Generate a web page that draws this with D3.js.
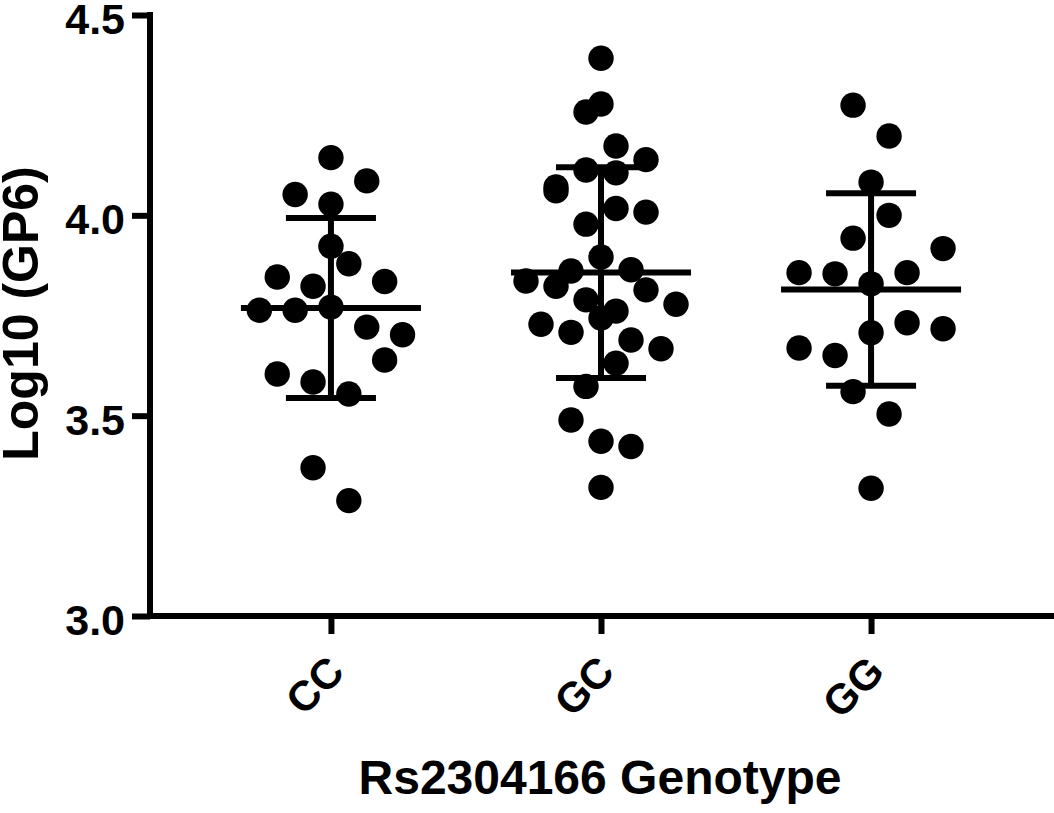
<!DOCTYPE html>
<html>
<head>
<meta charset="utf-8">
<script src="https://cdn.jsdelivr.net/npm/d3@7"></script>
<style>
  body { margin: 0; background: #fff; }
  text { font-family: "Liberation Sans", Arial, Helvetica, sans-serif; font-weight: bold; fill: #000; }
</style>
</head>
<body>
<div id="chart"></div>
<script>
// Chart data
var genotypes = ["CC", "GC", "GG"];
var yTicks = [3.0, 3.5, 4.0, 4.5];

// log10(GP6) per subject
var ccValues = [4.144, 4.086, 4.052, 4.028, 3.923, 3.879, 3.846, 3.835, 3.823, 3.763,
  3.763, 3.771, 3.721, 3.702, 3.639, 3.604, 3.584, 3.554, 3.370, 3.288];
var gcValues = [4.392, 4.278, 4.258, 4.173, 4.139, 4.113, 4.106, 4.071, 4.061, 4.017,
  4.008, 3.978, 3.896, 3.861, 3.864, 3.836, 3.823, 3.814, 3.789, 3.778,
  3.761, 3.744, 3.728, 3.708, 3.689, 3.667, 3.631, 3.573, 3.489, 3.436, 3.423, 3.321];
var ggValues = [4.275, 4.198, 4.083, 4.000, 3.943, 3.917, 3.857, 3.854, 3.857, 3.829,
  3.732, 3.707, 3.717, 3.669, 3.650, 3.560, 3.504, 3.319];

// swarm column of each point (same order as the values)
var ccSlots = [0, 2, -2, 0, 0, 1, -3, 3, -1, -4, -2, 0, 2, 4, 3, -3, -1, 1, -1, 1];
var gcSlots = [0, 0, -1, 1, 3, -1, 1, -3, -3, 1, 3, -1, 0, -2, 2, -5, -3, 3, -1, 5,
  1, 0, -4, -2, 2, 4, 1, -1, -2, 0, 2, 0];
var ggSlots = [-1, 1, 0, 1, -1, 4, -4, -2, 2, 0, 2, 0, 4, -4, -2, -1, 1, 0];

var groupValues = [ccValues, gcValues, ggValues];
var groupSlots = [ccSlots, gcSlots, ggSlots];

// layout
var svgWidth = 1054;
var svgHeight = 813;
var margin = { top: 15, right: 0, bottom: 197, left: 150 };
var width = svgWidth - margin.left - margin.right;
var height = svgHeight - margin.top - margin.bottom;
var slotWidth = [17.9, 15, 18];   // px between swarm columns per group
var dotR = 12.7;
var lineW = 6;

var groups = genotypes.map(function(g, i) {
  var vals = groupValues[i];
  return {
    name: g,
    mean: d3.mean(vals),
    sd: d3.deviation(vals),
    points: vals.map(function(v, j) { return { value: v, slot: groupSlots[i][j], gi: i }; })
  };
});

var svg = d3.select("#chart")
  .append("svg")
  .attr("width", svgWidth)
  .attr("height", svgHeight);

var chartGroup = svg.append("g")
  .attr("transform", `translate(${margin.left}, ${margin.top})`);

// scales
var xScale = d3.scalePoint()
  .domain(genotypes)
  .range([0, 902])
  .padding(0.67);

var yScale = d3.scaleLinear()
  .domain([3.0, 4.5])
  .range([height, 0]);

var step = xScale.step();

// axes
var yAxis = d3.axisLeft(yScale)
  .tickValues(yTicks)
  .tickFormat(d3.format(".1f"))
  .tickSize(18)
  .tickSizeOuter(0)
  .tickPadding(7);

var xAxis = d3.axisBottom(xScale)
  .tickSize(18)
  .tickSizeOuter(0);

var gy = chartGroup.append("g").call(yAxis);
gy.select(".domain").remove();
gy.selectAll(".tick line").attr("stroke", "#000").attr("stroke-width", lineW);
gy.selectAll(".tick text")
  .attr("font-size", "43px")
  .attr("dy", "0.43em");

var gx = chartGroup.append("g")
  .attr("transform", `translate(0, ${height})`)
  .call(xAxis);
gx.select(".domain").remove();
gx.selectAll(".tick line").attr("stroke", "#000").attr("stroke-width", lineW);
gx.selectAll(".tick text")
  .attr("font-size", "42px")
  .attr("x", 0)
  .attr("y", 0)
  .attr("dy", 0)
  .attr("text-anchor", "end")
  .attr("transform", "translate(15, 58) rotate(-45)");

// axis lines
chartGroup.append("path")
  .attr("d", `M0,${yScale(4.5)}V${height}H${width}`)
  .attr("fill", "none")
  .attr("stroke", "#000")
  .attr("stroke-width", lineW)
  .attr("stroke-linecap", "square");

// mean and SD bars
var bars = chartGroup.append("g")
  .selectAll("g")
  .data(groups)
  .enter()
  .append("g")
  .attr("stroke", "#000")
  .attr("stroke-width", lineW);

bars.append("line")
  .attr("x1", d => xScale(d.name))
  .attr("x2", d => xScale(d.name))
  .attr("y1", d => yScale(d.mean + d.sd))
  .attr("y2", d => yScale(d.mean - d.sd));

bars.append("line")
  .attr("x1", d => xScale(d.name) - step / 3)
  .attr("x2", d => xScale(d.name) + step / 3)
  .attr("y1", d => yScale(d.mean))
  .attr("y2", d => yScale(d.mean));

[1, -1].forEach(function(s) {
  bars.append("line")
    .attr("x1", d => xScale(d.name) - step / 6)
    .attr("x2", d => xScale(d.name) + step / 6)
    .attr("y1", d => yScale(d.mean + s * d.sd))
    .attr("y2", d => yScale(d.mean + s * d.sd));
});

// points
chartGroup.append("g")
  .selectAll("circle")
  .data(groups.flatMap(g => g.points))
  .enter()
  .append("circle")
  .attr("cx", d => xScale(genotypes[d.gi]) + d.slot * slotWidth[d.gi])
  .attr("cy", d => yScale(d.value))
  .attr("r", dotR)
  .attr("fill", "#000");

// axis titles
svg.append("text")
  .attr("transform", `translate(${margin.left + width / 2 - 2}, 794)`)
  .attr("text-anchor", "middle")
  .attr("font-size", "48px")
  .text("Rs2304166 Genotype");

svg.append("text")
  .attr("transform", `translate(38, ${margin.top + height / 2 - 2}) rotate(-90)`)
  .attr("text-anchor", "middle")
  .attr("font-size", "50px")
  .text("Log10 (GP6)");
</script>
</body>
</html>
